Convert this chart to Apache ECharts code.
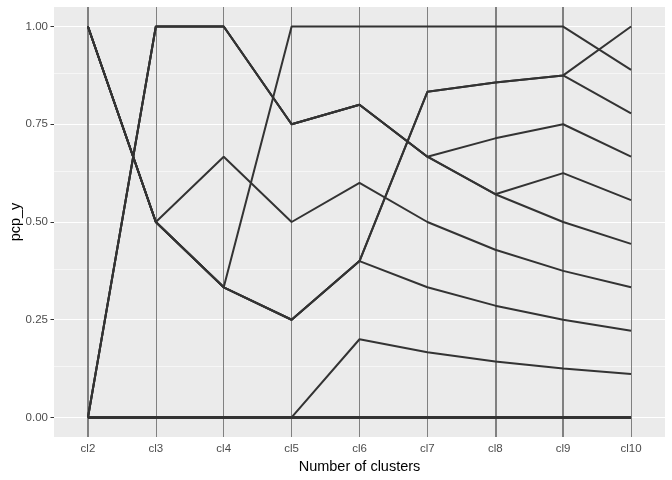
<!DOCTYPE html>
<html>
<head>
<meta charset="utf-8">
<script src="https://cdn.jsdelivr.net/npm/echarts@6/dist/echarts.min.js"></script>
<style>html,body{margin:0;padding:0;background:#fff}#c{width:672px;height:480px}</style>
</head>
<body>
<div id="c"></div>
<script>
// Categories (axes of the parallel coordinate plot)
const categories = ['cl2','cl3','cl4','cl5','cl6','cl7','cl8','cl9','cl10'];
// Paths through the axes (scaled cluster labels)
const pathZero = [0, 0, 0, 0, 0, 0, 0, 0, 0];
const pathF  = [0, 0, 0, 0, 0.2, 0.167, 0.143, 0.125, 0.111];
const pathB1 = [0, 1, 1, 0.75, 0.8, 0.667, 0.714, 0.75, 0.667];
const pathB2 = [0, 1, 1, 0.75, 0.8, 0.667, 0.571, 0.625, 0.556];
const pathB3 = [0, 1, 1, 0.75, 0.8, 0.667, 0.571, 0.5, 0.444];
const pathC  = [1, 0.5, 0.667, 0.5, 0.6, 0.5, 0.429, 0.375, 0.333];
const pathD1 = [1, 0.5, 0.333, 0.25, 0.4, 0.333, 0.286, 0.25, 0.222];
const pathD2 = [1, 0.5, 0.333, 0.25, 0.4, 0.833, 0.857, 0.875, 1];
const pathD3 = [1, 0.5, 0.333, 0.25, 0.4, 0.833, 0.857, 0.875, 0.778];
const pathE  = [1, 0.5, 0.333, 1, 1, 1, 1, 1, 0.889];
// Y tick labels
const yTicks = [0, 0.25, 0.5, 0.75, 1];
const yMinor = [0.125, 0.375, 0.625, 0.875];

const paths = [pathF, pathB1, pathB2, pathB3, pathC, pathD1, pathD2, pathD3, pathE];
const axisLineWidths = [2, 1, 1, 1, 1, 1, 2, 2, 1];

const font = '"Liberation Sans", Arial, Helvetica, sans-serif';
const yMin = -0.05, yMax = 1.05;

const series = [];
// grid lines
series.push({
  type: 'line', data: [], z: 1, silent: true,
  markLine: {
    z: 1, silent: true, symbol: 'none', animation: false, label: {show: false},
    data: yTicks.map(v => ({yAxis: v, lineStyle: {color: '#ffffff', width: 1.1, type: 'solid'}}))
      .concat(yMinor.map(v => ({yAxis: v, lineStyle: {color: '#ffffff', width: 0.55, type: 'solid'}})))
  }
});
// vertical axis lines
series.push({
  type: 'line', data: [], z: 2, silent: true,
  markLine: {
    z: 2, silent: true, symbol: 'none', animation: false, label: {show: false},
    data: categories.map((c, i) => ({xAxis: c, lineStyle: {color: '#808080', width: axisLineWidths[i], type: 'solid'}}))
  }
});
// bottom line
series.push({
  type: 'line', data: pathZero, z: 3, symbol: 'none', silent: true, animation: false,
  lineStyle: {color: '#333333', width: 3}
});
paths.forEach(p => series.push({
  type: 'line', data: p, z: 4, symbol: 'none', silent: true, animation: false,
  lineStyle: {color: '#333333', width: 2}
}));

const chart = echarts.init(document.getElementById('c'));
chart.setOption({
  animation: false,
  backgroundColor: '#ffffff',
  grid: {left: 54, right: 7, top: 7, bottom: 43, show: true, backgroundColor: '#ebebeb', borderWidth: 0,
    containLabel: false, outerBoundsMode: 'none'},
  xAxis: {
    type: 'category', data: categories, boundaryGap: true,
    name: 'Number of clusters', nameLocation: 'middle', nameGap: 22, nameMoveOverlap: false,
    nameTextStyle: {fontFamily: font, fontSize: 14.5, color: '#000000'},
    axisLine: {show: false},
    axisTick: {show: true, alignWithLabel: true, length: 3.5, lineStyle: {color: '#333333', width: 1}},
    axisLabel: {fontFamily: font, fontSize: 11.5, color: '#4d4d4d', margin: 6},
    splitLine: {show: false}
  },
  yAxis: {
    type: 'value', min: yMin, max: yMax,
    name: 'pcp_y', nameLocation: 'middle', nameGap: 31, nameMoveOverlap: false,
    nameTextStyle: {fontFamily: font, fontSize: 14.5, color: '#000000'},
    axisLine: {show: false},
    axisTick: {show: true, length: 3.5, customValues: yTicks, lineStyle: {color: '#333333', width: 1}},
    axisLabel: {fontFamily: font, fontSize: 11.5, color: '#4d4d4d', margin: 6, customValues: yTicks,
      formatter: v => Number(v).toFixed(2)},
    splitLine: {show: false}
  },
  series: series
});
</script>
</body>
</html>
